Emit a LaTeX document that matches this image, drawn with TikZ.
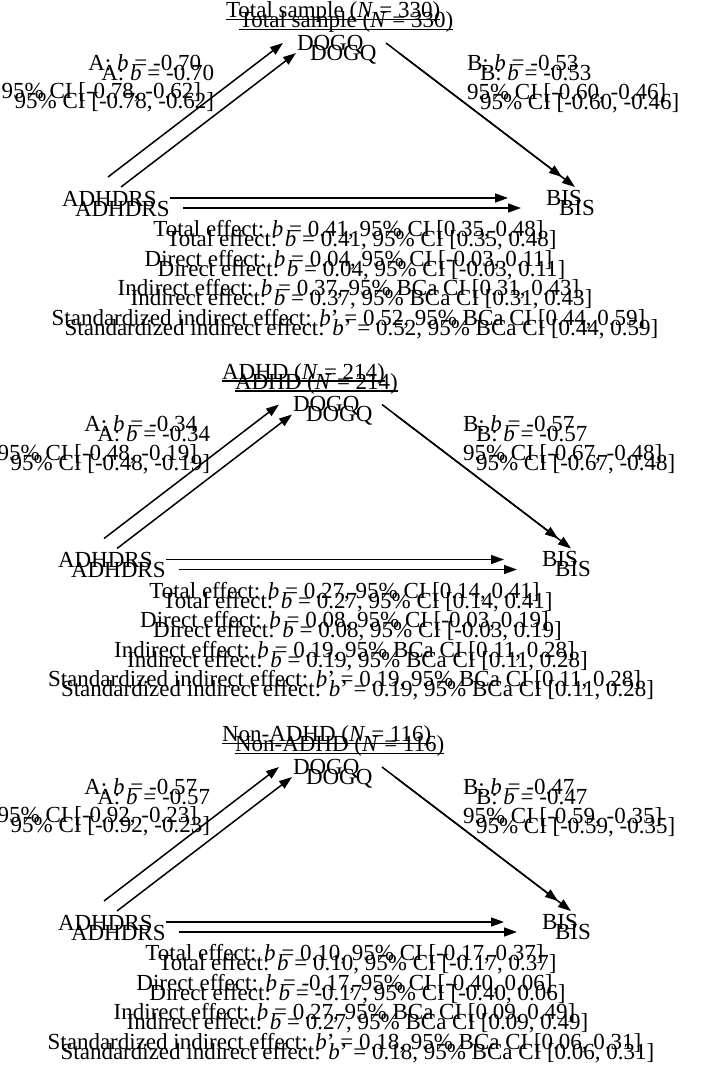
\documentclass[tikz,border=0pt]{standalone}
\usepackage{fontspec}
\setmainfont{Liberation Serif}
\usetikzlibrary{arrows.meta,calc}
\tikzset{
  lbl/.style={inner sep=0pt, outer sep=0pt, font=\fontsize{23}{29.5}\selectfont},
  arr/.style={-{Triangle[length=13pt,width=9pt]}, line width=1.5pt},
  uline/.style={line width=1.2pt}
}
\newcommand\drawpanel[9]{%
  \node[lbl, anchor=base west] (title) at (226,17.5) {#1};
  \draw[uline] ($(title.base west)+(0,2)$) -- ($(title.base east)+(0,2)$);
  \node[lbl, anchor=base west] (dogq) at (297,50) {DOGQ};
  \node[lbl, anchor=base west] (adhd) at (62,206) {ADHDRS};
  \node[lbl, anchor=base west] (bis) at (546,205) {BIS};
  \node[lbl, anchor=base east] (a1) at (201,70) {A: \textit{b} = #2};
  \node[lbl, anchor=base east] (a2) at (201,98.5) {95\% CI [#3]};
  \node[lbl, anchor=base west] (b1) at (467,70) {B: \textit{b} = #4};
  \node[lbl, anchor=base west] (b2) at (467,99) {95\% CI [#5]};
  \node[lbl, anchor=base] (tot) at (348.5,236.5) {Total effect: \textit{b} = #6};
  \node[lbl, anchor=base] (dir) at (348.5,266) {Direct effect: \textit{b} = #7};
  \node[lbl, anchor=base] (ind) at (348.5,295.5) {Indirect effect: \textit{b} = #8};
  \node[lbl, anchor=base] (std) at (348.5,325) {Standardized indirect effect: \textit{b}' = #9};
  \draw[arr] ($(adhd.base west)+(46,-29)$) -- ($(dogq.base west)+(-14,-7)$);
  \draw[arr] ($(dogq.base west)+(89,-7)$) -- ($(bis.base west)+(16,-28)$);
  \draw[arr] ($(adhd.base west)+(108,-8)$) -- ($(bis.base west)+(-38,-7)$);
}
\newcommand\panelone{\drawpanel{Total sample (\textit{N} = 330)}{-0.70}{-0.78, -0.62}{-0.53}{-0.60, -0.46}%
  {0.41, 95\% CI [0.35, 0.48]}{0.04, 95\% CI [-0.03, 0.11]}{0.37, 95\% BCa CI [0.31, 0.43]}{0.52, 95\% BCa CI [0.44, 0.59]}}
\newcommand\paneltwo{\drawpanel{ADHD (\textit{N} = 214)}{-0.34}{-0.48, -0.19}{-0.57}{-0.67, -0.48}%
  {0.27, 95\% CI [0.14, 0.41]}{0.08, 95\% CI [-0.03, 0.19]}{0.19, 95\% BCa CI [0.11, 0.28]}{0.19, 95\% BCa CI [0.11, 0.28]}}
\newcommand\panelthree{\drawpanel{Non-ADHD (\textit{N} = 116)}{-0.57}{-0.92, -0.23}{-0.47}{-0.59, -0.35}%
  {0.10, 95\% CI [-0.17, 0.37]}{-0.17, 95\% CI [-0.40, 0.06]}{0.27, 95\% BCa CI [0.09, 0.49]}{0.18, 95\% BCa CI [0.06, 0.31]}}
\begin{document}
\begin{tikzpicture}[x=1pt,y=-1pt]
  \fill[white] (0,0) rectangle (708,1071);
  \useasboundingbox (0,0) rectangle (708,1071);
  \begin{scope}[shift={(0,0)}, name prefix=p1a-]\panelone\end{scope}
  \begin{scope}[shift={(13,10)}, name prefix=p1b-]\panelone\end{scope}
  \begin{scope}[shift={(-4,361.5)}, name prefix=p2a-]\paneltwo\end{scope}
  \begin{scope}[shift={(9,371.5)}, name prefix=p2b-]\paneltwo\end{scope}
  \begin{scope}[shift={(-4,724)}, name prefix=p3a-]\panelthree\end{scope}
  \begin{scope}[shift={(9,734)}, name prefix=p3b-]\panelthree\end{scope}
\end{tikzpicture}
\end{document}
